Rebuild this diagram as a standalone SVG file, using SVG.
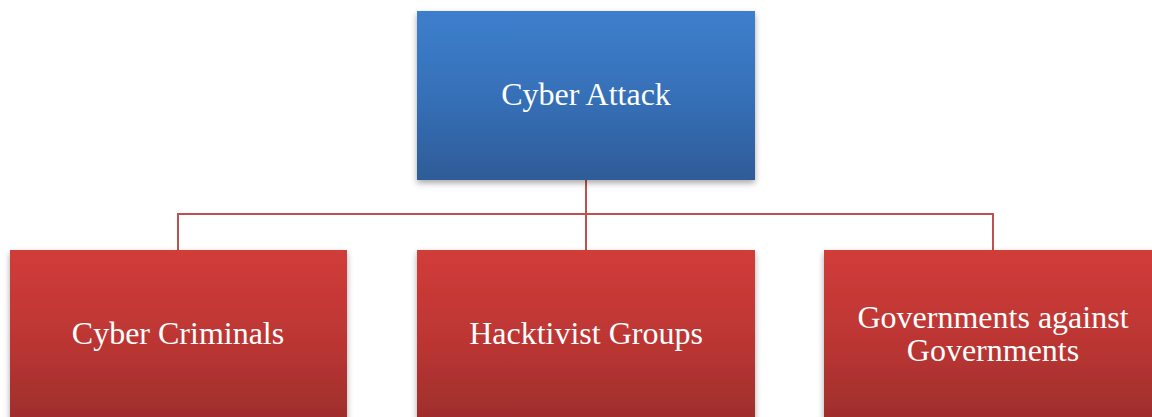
<svg xmlns="http://www.w3.org/2000/svg" width="1152" height="417" viewBox="0 0 1152 417">
<defs>
<linearGradient id="gBlue" x1="0" y1="0" x2="0" y2="1">
<stop offset="0" stop-color="#3d7fcd"/>
<stop offset="0.5" stop-color="#3670b8"/>
<stop offset="1" stop-color="#2e5c98"/>
</linearGradient>
<linearGradient id="gRed" x1="0" y1="0" x2="0" y2="1">
<stop offset="0" stop-color="#d13c39"/>
<stop offset="0.5" stop-color="#bc3633"/>
<stop offset="1" stop-color="#9a2d2b"/>
</linearGradient>
<filter id="sh" x="-10%" y="-10%" width="120%" height="130%">
<feGaussianBlur in="SourceAlpha" stdDeviation="3"/>
<feOffset dx="0" dy="3" result="b"/>
<feComponentTransfer><feFuncA type="linear" slope="0.35"/></feComponentTransfer>
<feMerge><feMergeNode/><feMergeNode in="SourceGraphic"/></feMerge>
</filter>
</defs>
<style>
text{font-family:"Liberation Serif","Times New Roman",serif;font-size:32px;fill:#ffffff;text-anchor:middle}
.conn{fill:none;stroke:#c0504d;stroke-width:2}
</style>
<rect width="1152" height="417" fill="#ffffff"/>
<g id="connectors">
<path class="conn" d="M586 180V214M178 250V214H993V250M586 214V250"/>
</g>
<g id="cyber-attack">
<rect x="417" y="11" width="338" height="169" fill="url(#gBlue)" filter="url(#sh)"/>
<text x="586" y="105">Cyber Attack</text>
</g>
<g id="cyber-criminals">
<rect x="10" y="250" width="337" height="180" fill="url(#gRed)" filter="url(#sh)"/>
<text x="178" y="344">Cyber Criminals</text>
</g>
<g id="hacktivist-groups">
<rect x="417" y="250" width="338" height="180" fill="url(#gRed)" filter="url(#sh)"/>
<text x="586" y="344">Hacktivist Groups</text>
</g>
<g id="governments">
<rect x="824" y="250" width="338" height="180" fill="url(#gRed)" filter="url(#sh)"/>
<text x="993" y="328">Governments against</text>
<text x="993" y="361">Governments</text>
</g>
</svg>
